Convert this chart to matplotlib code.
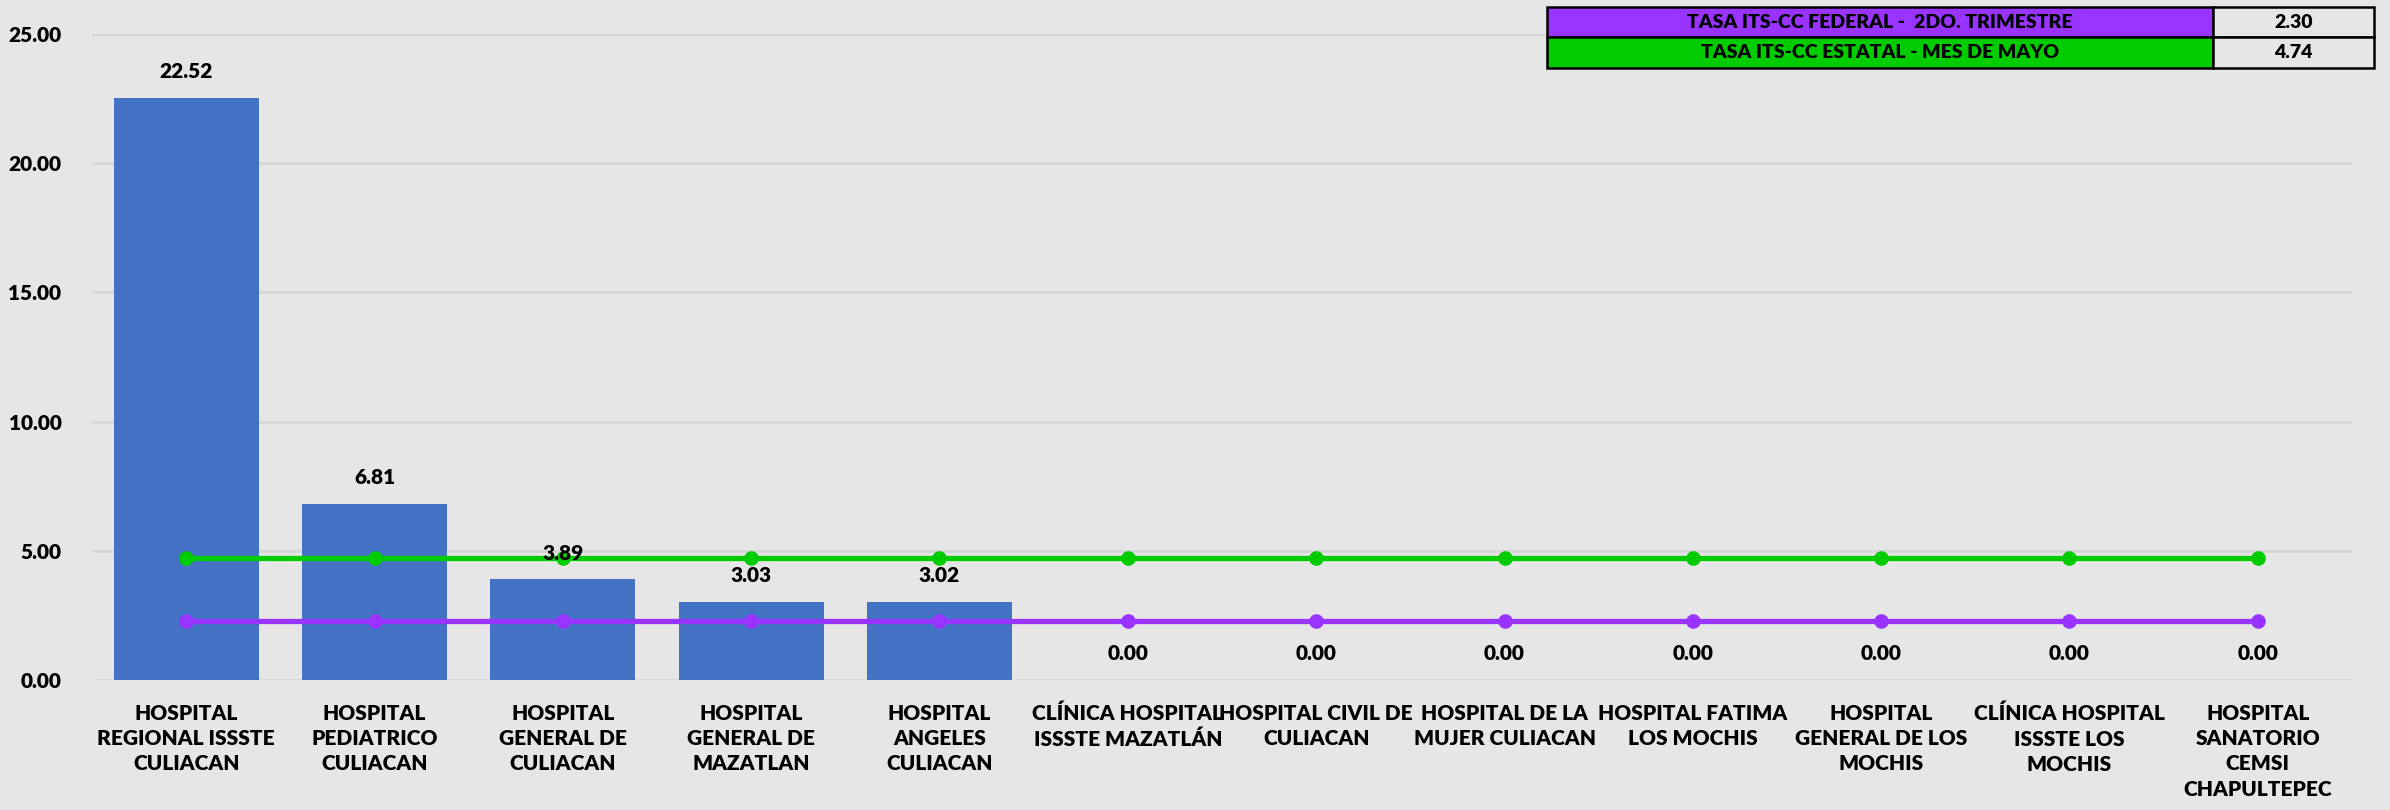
import matplotlib.pyplot as plt
import numpy as np

hospitales = [
    "HOSPITAL\nREGIONAL ISSSTE\nCULIACAN",
    "HOSPITAL\nPEDIATRICO\nCULIACAN",
    "HOSPITAL\nGENERAL DE\nCULIACAN",
    "HOSPITAL\nGENERAL DE\nMAZATLAN",
    "HOSPITAL\nANGELES\nCULIACAN",
    "CLÍNICA HOSPITAL\nISSSTE MAZATLÁN",
    "HOSPITAL CIVIL DE\nCULIACAN",
    "HOSPITAL DE LA\nMUJER CULIACAN",
    "HOSPITAL FATIMA\nLOS MOCHIS",
    "HOSPITAL\nGENERAL DE LOS\nMOCHIS",
    "CLÍNICA HOSPITAL\nISSSTE LOS\nMOCHIS",
    "HOSPITAL\nSANATORIO\nCEMSI\nCHAPULTEPEC",
]
tasas = [22.52, 6.81, 3.89, 3.03, 3.02, 0.00, 0.00, 0.00, 0.00, 0.00, 0.00, 0.00]

tasa_federal = 2.30
tasa_estatal = 4.74
tabla_etiquetas = ["TASA ITS-CC FEDERAL -  2DO. TRIMESTRE", "TASA ITS-CC ESTATAL - MES DE MAYO"]
tabla_valores = [tasa_federal, tasa_estatal]

yticks = [0, 5, 10, 15, 20, 25]

BG = "#e6e6e6"
AZUL = "#4472c4"
VERDE = "#00cc00"
MORADO = "#9933ff"
FUENTE = ["Lato", "DejaVu Sans"]
PESO = 'heavy'

plt.rcParams['font.family'] = FUENTE
plt.rcParams['font.weight'] = 'bold'

fig = plt.figure(figsize=(23.9, 8.1), dpi=100, facecolor=BG)
ax = fig.add_axes([92/2390, 1-680/810, (2352-92)/2390, (680-34)/810], facecolor=BG)

x = np.arange(len(hospitales))
bars = ax.bar(x, tasas, width=0.77, color=AZUL, zorder=2)
ax.plot(x, [tasa_estatal]*len(x), color=VERDE, lw=3.8, marker='o', ms=9.5, zorder=3)
ax.plot(x, [tasa_federal]*len(x), color=MORADO, lw=3.8, marker='o', ms=9.5, zorder=3)

for xi, v in zip(x, tasas):
    ax.annotate(f"{v:.2f}", (xi, v), xytext=(0, 19), textcoords='offset points',
                ha='center', va='center', fontsize=15, fontweight=PESO, zorder=4)

ax.set_xlim(-0.5, len(x)-0.5)
ax.set_ylim(0, 25)
ax.set_yticks(yticks)
ax.set_yticklabels([f"{t:.2f}" for t in yticks], fontsize=15, fontweight=PESO)
ax.set_xticks(x)
ax.set_xticklabels(hospitales, fontsize=15, fontweight=PESO, linespacing=1.4, va='top')
ax.tick_params(axis='both', length=0)
ax.tick_params(axis='y', pad=22)
ax.tick_params(axis='x', pad=17)
ax.grid(axis='y', color='#d6d6d6', lw=2, zorder=0)
ax.set_axisbelow(True)
for s in ax.spines.values():
    s.set_visible(False)

# tabla de referencia
tax = fig.add_axes([1547/2390, 1-68/810, (2374-1547)/2390, (68-7)/810])
tax.axis('off')
celdas = [[e, f"{v:.2f}"] for e, v in zip(tabla_etiquetas, tabla_valores)]
colores = [[MORADO, BG], [VERDE, BG]]
tb = tax.table(cellText=celdas, cellColours=colores, cellLoc='center',
               colWidths=[666, 161], bbox=[0, 0, 1, 1])
tb.auto_set_font_size(False)
for (r, c), cell in tb.get_celld().items():
    cell.set_edgecolor('black')
    cell.set_linewidth(1.8)
    cell.get_text().set_fontsize(14)
    cell.get_text().set_fontweight(PESO)

fig.savefig("out.png", dpi=100, facecolor=BG)
